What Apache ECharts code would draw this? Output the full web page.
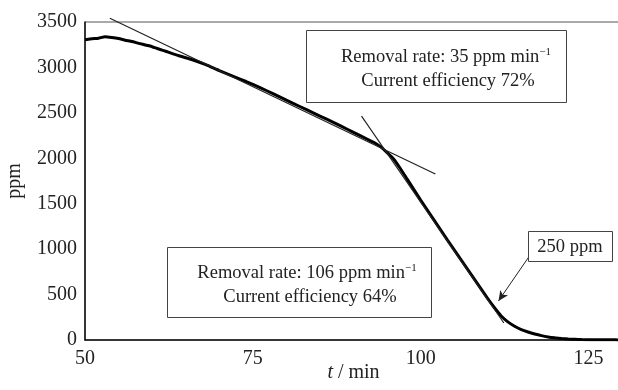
<!DOCTYPE html>
<html>
<head>
<meta charset="utf-8">
<script src="https://cdn.jsdelivr.net/npm/echarts@6/dist/echarts.min.js"></script>
<style>html,body{margin:0;padding:0;background:#fff;}#c{width:618px;height:390px;}</style>
</head>
<body>
<div id="c"></div>
<script>
// Measured curve: time (min) and concentration (ppm)
const tValues = [50,51,52,53,54,55,56,57,58,60,62,64,66,68,70,72,74,76,78,80,82,84,86,88,90,92,93,94,95,96,97,98,99,100,102,104,106,108,110,111,112,113,114,115,116,117,118,119,120,121,122,123,124,126,128,130];
const ppmValues = [3305,3315,3322,3338,3330,3318,3300,3285,3265,3228,3178,3128,3085,3030,2965,2905,2845,2780,2712,2640,2570,2500,2430,2360,2285,2212,2176,2128,2062,1990,1885,1770,1655,1540,1320,1100,885,670,455,355,265,200,152,115,88,66,48,34,24,16,11,8,5,3,2,1];
// Tangent lines (endpoints)
const tangent1 = [[53.7,3541],[102.2,1827]];
const tangent2 = [[91.2,2465],[112.4,187]];
// Arrow for the 250 ppm annotation
const arrowLine = [[116.1,913],[111.6,430]];
const xTicks = [50,75,100,125];
const yTicks = [0,500,1000,1500,2000,2500,3000,3500];

const FONT = 'Liberation Serif';
const chart = echarts.init(document.getElementById('c'), null, {renderer:'canvas'});
const curve = tValues.map((t,i)=>[t, ppmValues[i]]);

function box(x,y,w,h){
  return {type:'rect', shape:{x:x+0.5,y:y+0.5,width:w,height:h}, style:{fill:'#fff', stroke:'#444', lineWidth:1}, z:10};
}
function txt(x,y,text,size){
  return {type:'text', x:x, y:y, z:11, style:{text:text, fill:'#222', font: size+'px "'+FONT+'"', align:'center', verticalAlign:'middle',
    rich:{n:{fontSize:size, fontFamily:FONT, fill:'#222'}, s:{fontSize:11, fontFamily:FONT, fill:'#222', padding:[0,0,9,0]}}}};
}

chart.setOption({
  animation:false,
  backgroundColor:'#fff',
  grid:{left:85, top:22, width:537, height:318, containLabel:false, outerBoundsMode:'none', show:true, borderColor:'#555', borderWidth:1},
  xAxis:{type:'value', min:50, max:130, interval:25,
    name:'{i|t} / min', nameLocation:'middle', nameGap:23, nameMoveOverlap:false,
    nameTextStyle:{fontFamily:FONT, fontSize:20, color:'#222', rich:{i:{fontFamily:FONT, fontSize:20, fontStyle:'italic', color:'#222'}}},
    axisLine:{lineStyle:{color:'#111', width:1.5}}, axisTick:{show:false}, splitLine:{show:false},
    axisLabel:{fontFamily:FONT, fontSize:20, color:'#222', margin:9,
      formatter:v=> xTicks.indexOf(v)>=0 ? String(v) : ''}},
  yAxis:{type:'value', min:0, max:3500, interval:500,
    name:'ppm', nameLocation:'middle', nameGap:60, nameMoveOverlap:false,
    nameTextStyle:{fontFamily:FONT, fontSize:20, color:'#222'},
    axisLine:{show:true, lineStyle:{color:'#111', width:1.5}}, axisTick:{show:false}, splitLine:{show:false},
    axisLabel:{fontFamily:FONT, fontSize:20, color:'#222', margin:8,
      formatter:v=> yTicks.indexOf(v)>=0 ? String(v) : ''}},
  series:[
    {type:'line', data:curve, showSymbol:false, smooth:0.15, lineStyle:{color:'#000', width:3}, z:3},
    {type:'line', data:tangent1, showSymbol:false, clip:false, lineStyle:{color:'#222', width:1.2}, z:4},
    {type:'line', data:tangent2, showSymbol:false, clip:false, lineStyle:{color:'#222', width:1.2}, z:4},
    {type:'line', data:arrowLine, showSymbol:false, lineStyle:{width:0}, z:4,
      markLine:{silent:true, symbol:['none','arrow'], symbolSize:[7,10], label:{show:false},
        lineStyle:{color:'#222', width:1, type:'solid'},
        data:[[{coord:arrowLine[0]},{coord:arrowLine[1]}]]}}
  ],
  graphic:[
    box(306,30,260,72),
    txt(446,57,'{n|Removal rate: 35 ppm min}{s|−1}',18.5),
    txt(448,81,'Current efficiency 72%',18.5),
    box(167,247,264,70),
    txt(307,273,'{n|Removal rate: 106 ppm min}{s|−1}',18.5),
    txt(310,297,'Current efficiency 64%',18.5),
    box(528,231,84,30),
    txt(570,247,'250 ppm',18.5)
  ]
});
</script>
</body>
</html>
